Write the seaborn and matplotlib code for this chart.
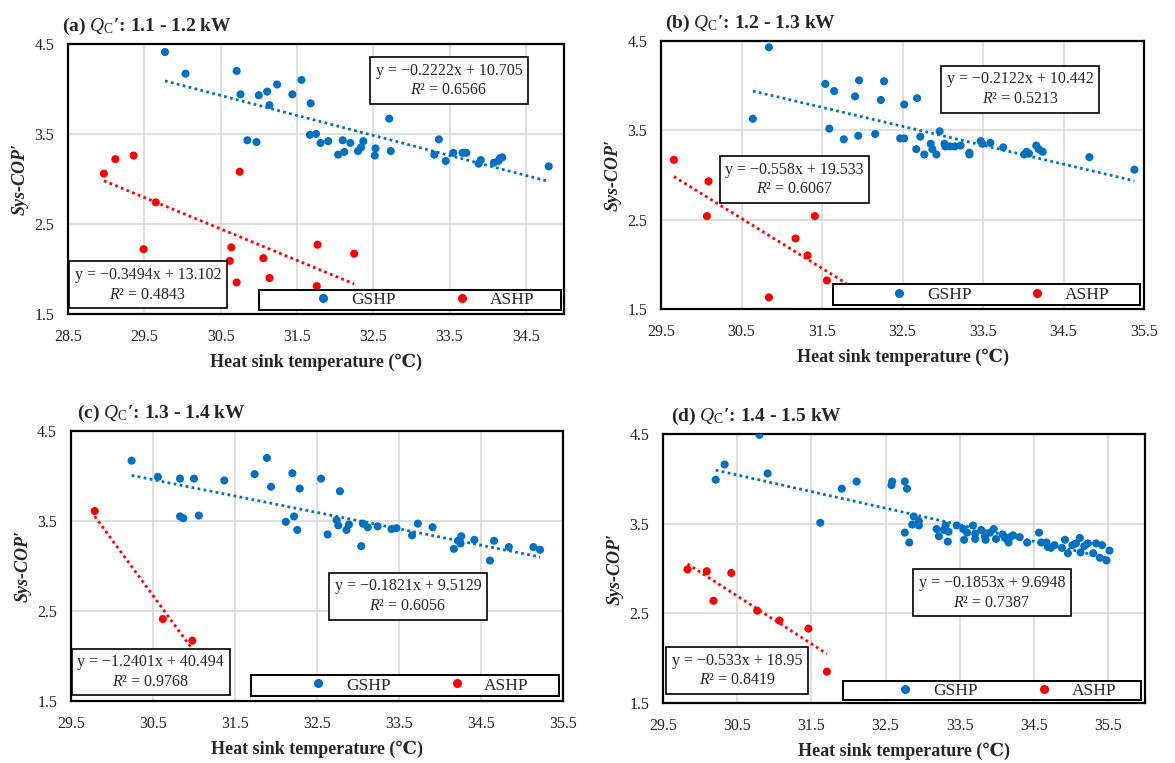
import numpy as np
import pandas as pd
import matplotlib
matplotlib.use("Agg")
import matplotlib.pyplot as plt
import seaborn as sns
from matplotlib.lines import Line2D
from matplotlib.patches import Rectangle

# %%
# Values (heat sink temperature in degC, Sys-COP')
gshp_x_a = [29.77, 30.04, 30.71, 30.76, 31.0, 31.11, 31.14, 31.24, 31.44, 31.56, 31.68, 32.71,
            30.85, 30.97, 31.67, 31.75, 31.81, 31.91, 32.04, 32.10, 32.12, 32.20, 32.30, 32.34,
            32.37, 32.53, 32.52, 32.73, 33.36, 33.30, 33.45, 33.55, 33.67, 33.72, 33.88, 33.91,
            34.08, 34.14, 34.16, 34.19, 34.80]
gshp_y_a = [4.41, 4.17, 4.20, 3.94, 3.93, 3.97, 3.82, 4.05, 3.94, 4.10, 3.84, 3.67,
            3.43, 3.41, 3.49, 3.50, 3.40, 3.42, 3.27, 3.43, 3.30, 3.40, 3.31, 3.35,
            3.42, 3.34, 3.26, 3.31, 3.44, 3.27, 3.20, 3.29, 3.29, 3.29, 3.17, 3.21,
            3.18, 3.20, 3.23, 3.24, 3.14]
ashp_x_a = [28.97, 29.12, 29.36, 29.65, 30.75, 29.49, 30.64, 30.62, 30.71, 31.06, 31.14,
            31.77, 31.76, 32.25]
ashp_y_a = [3.06, 3.22, 3.26, 2.74, 3.08, 2.22, 2.24, 2.09, 1.85, 2.12, 1.90,
            2.27, 1.81, 2.17]

gshp_x_b = [30.84, 30.64, 31.54, 31.65, 31.96, 32.27, 31.91, 32.23, 32.52, 32.68, 31.59, 31.77,
            31.95, 32.16, 32.47, 32.52, 32.72, 32.96, 32.67, 32.77, 32.85, 32.87, 32.92, 33.02,
            33.03, 33.09, 33.15, 33.22, 33.33, 33.33, 33.47, 33.49, 33.59, 33.75, 34.01, 34.04,
            34.07, 34.16, 34.19, 34.24, 34.82, 35.38]
gshp_y_b = [4.43, 3.63, 4.02, 3.94, 4.06, 4.05, 3.88, 3.84, 3.79, 3.86, 3.52, 3.40,
            3.44, 3.46, 3.41, 3.41, 3.43, 3.49, 3.29, 3.23, 3.35, 3.29, 3.23, 3.35,
            3.32, 3.32, 3.32, 3.33, 3.25, 3.23, 3.38, 3.35, 3.36, 3.31, 3.23, 3.26,
            3.24, 3.33, 3.29, 3.26, 3.20, 3.06]
ashp_x_b = [29.66, 30.09, 30.07, 31.41, 31.17, 31.32, 31.56, 30.84]
ashp_y_b = [3.17, 2.93, 2.54, 2.54, 2.29, 2.10, 1.82, 1.63]

gshp_x_c = [30.24, 30.56, 30.83, 31.0, 31.37, 31.74, 31.89, 31.94, 32.20, 32.29, 32.55, 32.78,
            30.83, 30.87, 31.06, 32.12, 32.22, 32.26, 32.63, 32.74, 32.76, 32.86, 32.89, 33.04,
            33.06, 33.12, 33.24, 33.41, 33.47, 33.66, 33.73, 33.91, 34.17, 34.22, 34.25, 34.26,
            34.42, 34.61, 34.66, 34.84, 35.14, 35.22]
gshp_y_c = [4.17, 3.99, 3.97, 3.97, 3.95, 4.02, 4.20, 3.88, 4.03, 3.86, 3.97, 3.83,
            3.55, 3.53, 3.56, 3.49, 3.55, 3.40, 3.35, 3.51, 3.45, 3.40, 3.46, 3.22,
            3.47, 3.43, 3.44, 3.41, 3.42, 3.34, 3.47, 3.43, 3.19, 3.28, 3.25, 3.33,
            3.29, 3.06, 3.28, 3.21, 3.21, 3.18]
ashp_x_c = [29.79, 30.62, 30.98]
ashp_y_c = [3.61, 2.41, 2.17]

gshp_x_d = [30.80, 30.33, 30.21, 30.91, 31.91, 32.11, 32.59, 32.58, 32.76, 32.79, 31.62, 32.76,
            32.82, 32.86, 32.88, 32.95, 32.95, 33.19, 33.22, 33.29, 33.31, 33.34, 33.35, 33.46,
            33.55, 33.56, 33.60, 33.68, 33.71, 33.71, 33.79, 33.84, 33.85, 33.91, 33.96, 33.99,
            34.08, 34.11, 34.16, 34.18, 34.22, 34.31, 34.41, 34.57, 34.60, 34.67, 34.69, 34.73,
            34.78, 34.88, 34.92, 34.96, 35.02, 35.07, 35.12, 35.13, 35.18, 35.23, 35.30, 35.34,
            35.39, 35.42, 35.48, 35.52]
gshp_y_d = [4.49, 4.16, 3.99, 4.06, 3.89, 3.97, 3.97, 3.93, 3.97, 3.89, 3.51, 3.40,
            3.29, 3.49, 3.58, 3.53, 3.48, 3.44, 3.36, 3.43, 3.48, 3.30, 3.41, 3.48,
            3.44, 3.32, 3.40, 3.48, 3.39, 3.33, 3.43, 3.36, 3.32, 3.40, 3.44, 3.33,
            3.38, 3.34, 3.29, 3.35, 3.37, 3.35, 3.29, 3.40, 3.29, 3.29, 3.24, 3.23,
            3.26, 3.23, 3.32, 3.17, 3.26, 3.28, 3.34, 3.18, 3.25, 3.28, 3.17, 3.28,
            3.12, 3.26, 3.09, 3.20]
ashp_x_d = [29.83, 30.09, 30.42, 30.18, 30.77, 31.07, 31.46, 31.71]
ashp_y_d = [2.99, 2.97, 2.95, 2.64, 2.53, 2.42, 2.33, 1.85]

# Trend lines as printed in the figure (slope, intercept, R2)
gshp_fit = {"a": (-0.2222, 10.705, "0.6566"), "b": (-0.2122, 10.442, "0.5213"),
            "c": (-0.1821, 9.5129, "0.6056"), "d": (-0.1853, 9.6948, "0.7387")}
ashp_fit = {"a": (-0.3494, 13.102, "0.4843"), "b": (-0.558, 19.533, "0.6067"),
            "c": (-1.2401, 40.494, "0.9768"), "d": (-0.533, 18.95, "0.8419")}
# (b): the ASHP trend line runs on under the legend box
ashp_fit_end = {"b": 31.8}

titles = {"a": "1.1 - 1.2 kW", "b": "1.2 - 1.3 kW", "c": "1.3 - 1.4 kW", "d": "1.4 - 1.5 kW"}
x_ranges = {"a": (28.5, 35.0), "b": (29.5, 35.5), "c": (29.5, 35.5), "d": (29.5, 36.0)}
y_ticks = [1.5, 2.5, 3.5, 4.5]

data = {"a": (gshp_x_a, gshp_y_a, ashp_x_a, ashp_y_a),
        "b": (gshp_x_b, gshp_y_b, ashp_x_b, ashp_y_b),
        "c": (gshp_x_c, gshp_y_c, ashp_x_c, ashp_y_c),
        "d": (gshp_x_d, gshp_y_d, ashp_x_d, ashp_y_d)}

# %%
sns.set_theme(style="whitegrid")
plt.rcParams["font.family"] = ["Liberation Serif", "DejaVu Serif"]
plt.rcParams["mathtext.fontset"] = "custom"
plt.rcParams["mathtext.rm"] = "Liberation Serif"
plt.rcParams["mathtext.it"] = "Liberation Serif:italic"
plt.rcParams["mathtext.bf"] = "Liberation Serif:bold"

BLUE = "#0070C0"
RED = "#FF0000"

# axes boxes in figure fractions, plus box/legend/title placement (axes fractions)
layout = {
    "a": dict(rect=[0.0579, 0.5885, 0.4221, 0.3539], title_x=-0.012,
              gbox=(0.768, 0.865), abox=(0.161, 0.108), leg=(0.386, 0.015, 0.607, 0.072)),
    "b": dict(rect=[0.5626, 0.5950, 0.4111, 0.3512], title_x=0.008,
              gbox=(0.744, 0.820), abox=(0.276, 0.483), leg=(0.355, 0.014, 0.636, 0.079)),
    "c": dict(rect=[0.0604, 0.0813, 0.4187, 0.3539], title_x=0.012,
              gbox=(0.685, 0.388), abox=(0.162, 0.107), leg=(0.365, 0.018, 0.628, 0.079)),
    "d": dict(rect=[0.5643, 0.0786, 0.4102, 0.3526], title_x=0.017,
              gbox=(0.682, 0.410), abox=(0.154, 0.121), leg=(0.374, 0.010, 0.618, 0.073)),
}

fig = plt.figure(figsize=(11.75, 7.63), dpi=100)

for key in ["a", "b", "c", "d"]:
    lay = layout[key]
    ax = fig.add_axes(lay["rect"])
    gx, gy, axx, ayy = data[key]
    df = pd.DataFrame({
        "temp": gx + axx,
        "cop": gy + ayy,
        "system": ["GSHP"] * len(gx) + ["ASHP"] * len(axx),
    })

    sns.scatterplot(data=df, x="temp", y="cop", hue="system",
                    palette={"GSHP": BLUE, "ASHP": RED}, s=34, linewidth=0,
                    legend=False, ax=ax, zorder=3)

    # dotted linear trend lines
    for xs, fit, col, end in [(gx, gshp_fit[key], BLUE, None),
                              (axx, ashp_fit[key], RED, ashp_fit_end.get(key))]:
        m, b, _ = fit
        xl = np.array([min(xs), end if end else max(xs)])
        ax.plot(xl, m * xl + b, linestyle=(0, (1, 1.2)), color=col, lw=2, zorder=2)

    # equation boxes
    for (bx, by), fit in [(lay["gbox"], gshp_fit[key]), (lay["abox"], ashp_fit[key])]:
        m, b, r2 = fit
        txt = f"y = \u2212{abs(m):g}x + {b:g}\n$R$\u00b2 = {r2}"
        ax.text(bx, by, txt, transform=ax.transAxes, ha="center", va="center",
                multialignment="center", fontsize=11.5, linespacing=1.3, zorder=6,
                bbox=dict(boxstyle="square,pad=0.35", fc="white", ec="black", lw=1.2))

    ax.set_xlim(*x_ranges[key])
    ax.set_ylim(1.5, 4.5)
    x0 = x_ranges[key][0]
    ax.set_xticks(np.arange(x0, x_ranges[key][1] + 0.01, 1.0))
    ax.set_xticklabels([f"{v:.1f}" for v in ax.get_xticks()])
    ax.set_yticks(y_ticks)
    ax.set_yticklabels([f"{v:.1f}" for v in y_ticks])
    ax.tick_params(axis="both", length=0, labelsize=11.5, colors="#222222")
    ax.tick_params(axis="y", pad=10)
    ax.tick_params(axis="x", pad=11)
    ax.grid(True, color="#d9d9d9", lw=1.2)
    for sp in ax.spines.values():
        sp.set_color("black")
        sp.set_linewidth(1.6)

    ax.set_xlabel("Heat sink temperature (\u2103)", fontsize=13, fontweight="bold",
                  labelpad=6)
    ax.set_ylabel("Sys-COP\u2032", fontsize=13, fontweight="bold", fontstyle="italic",
                  labelpad=4)

    ax.text(lay["title_x"], 1.025, f"({key}) $Q_\\mathrm{{C}}$\u2032: {titles[key]}",
            transform=ax.transAxes, ha="left", va="bottom", fontsize=14,
            fontweight="bold")

    # legend: framed strip along the bottom, entries centred inside it
    lx, ly, lw_, lh = lay["leg"]
    ax.add_patch(Rectangle((lx, ly), lw_, lh, transform=ax.transAxes, fc="white",
                           ec="black", lw=1.4, zorder=7))
    handles = [Line2D([], [], marker="o", ls="", color=BLUE, markersize=5.5),
               Line2D([], [], marker="o", ls="", color=RED, markersize=5.5)]
    leg = ax.legend(handles, ["GSHP", "ASHP"], ncol=2, loc="center",
                    bbox_to_anchor=(lx + lw_ / 2 + 0.02, ly + lh / 2),
                    frameon=False, fontsize=12.5, handletextpad=0.6,
                    handlelength=2.0, columnspacing=2.8, borderpad=0)
    leg.set_zorder(8)

fig.savefig("out.png", dpi=100)
